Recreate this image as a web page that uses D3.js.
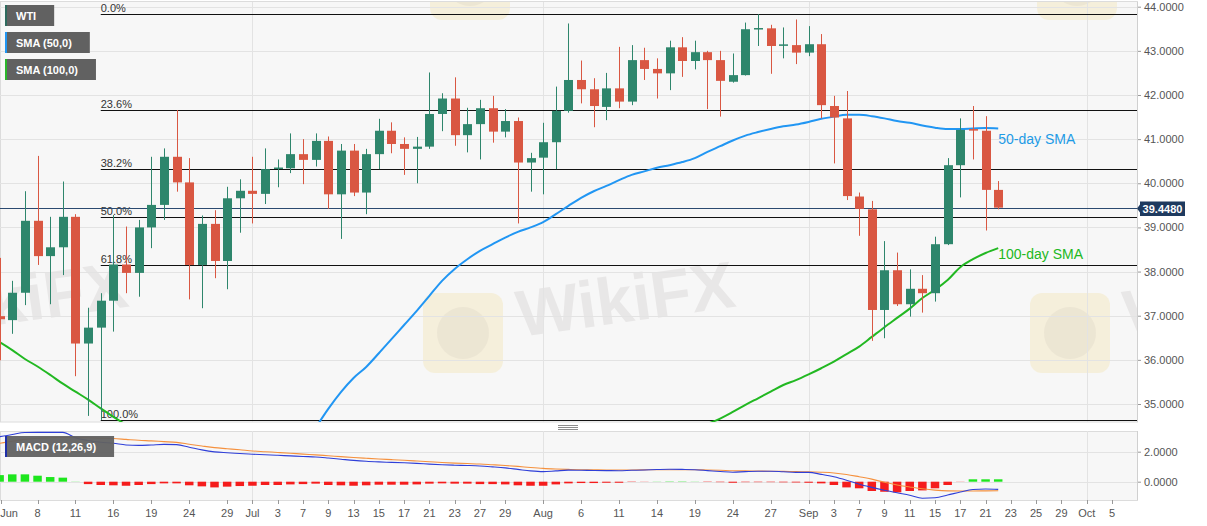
<!DOCTYPE html>
<html><head><meta charset="utf-8">
<script src="https://cdnjs.cloudflare.com/ajax/libs/d3/7.8.5/d3.min.js"></script>
<style>
body{margin:0;background:#fff;}
svg{display:block;font-family:"Liberation Sans",Arial,sans-serif;}
</style>
</head><body>
<svg id="c" width="1207" height="526"></svg>
<script>
// ---------------- DATA ----------------
const dates = ["2020-06-03","2020-06-04","2020-06-05","2020-06-08","2020-06-09","2020-06-10","2020-06-11","2020-06-12","2020-06-15","2020-06-16","2020-06-17","2020-06-18","2020-06-19","2020-06-22","2020-06-23","2020-06-24","2020-06-25","2020-06-26","2020-06-29","2020-06-30",
"2020-07-01","2020-07-02","2020-07-03","2020-07-06","2020-07-07","2020-07-08","2020-07-09","2020-07-10","2020-07-13","2020-07-14","2020-07-15","2020-07-16","2020-07-17","2020-07-20","2020-07-21","2020-07-22","2020-07-23","2020-07-24","2020-07-27","2020-07-28","2020-07-29","2020-07-30","2020-07-31",
"2020-08-03","2020-08-04","2020-08-05","2020-08-06","2020-08-07","2020-08-10","2020-08-11","2020-08-12","2020-08-13","2020-08-14","2020-08-17","2020-08-18","2020-08-19","2020-08-20","2020-08-21","2020-08-24","2020-08-25","2020-08-26","2020-08-27","2020-08-28","2020-08-31",
"2020-09-01","2020-09-02","2020-09-03","2020-09-04","2020-09-07","2020-09-08","2020-09-09","2020-09-10","2020-09-11","2020-09-14","2020-09-15","2020-09-16","2020-09-17","2020-09-18","2020-09-21","2020-09-22"];

const open = [36.99,36.90,37.52,39.15,38.35,38.55,39.24,36.37,36.73,37.34,38.16,37.97,39.00,39.51,40.60,40.02,38.15,39.08,38.24,39.66,
39.83,39.76,40.31,40.34,40.66,40.53,40.96,39.75,40.74,39.79,40.66,41.19,40.89,40.78,40.83,41.57,41.92,41.09,41.34,41.70,41.17,41.41,40.47,
40.58,40.93,41.64,42.34,42.13,41.73,42.15,41.85,42.79,42.59,42.49,43.08,42.77,42.97,42.79,42.30,42.45,43.48,43.51,43.11,43.13,
42.96,43.15,41.75,41.47,39.70,39.41,37.13,38.03,37.26,37.61,37.51,38.62,40.41,41.21,41.19,39.85];
const high = [38.31,37.79,39.82,40.62,39.24,40.04,39.30,37.18,37.51,39.28,39.02,39.17,40.60,40.79,41.66,40.57,39.27,39.39,39.92,40.09,
40.60,40.79,40.54,41.13,41.00,41.13,41.06,40.89,40.89,40.78,41.46,41.38,41.04,41.05,42.51,42.04,42.40,41.71,41.89,41.98,41.68,41.49,40.69,
41.37,42.19,43.62,42.78,42.38,42.50,43.09,43.13,43.07,42.83,43.23,43.31,43.23,43.00,43.00,42.94,43.64,43.83,43.59,43.53,43.71,
43.56,43.38,41.98,42.09,39.79,39.60,38.69,38.43,38.05,37.92,38.79,40.57,41.47,41.75,41.52,40.05];
const low = [35.99,36.59,37.24,38.15,37.26,37.92,35.63,34.73,34.64,36.64,37.51,37.43,38.53,39.17,39.81,37.37,37.17,37.85,37.60,38.88,
39.09,39.53,39.91,40.23,39.98,40.38,39.42,38.74,39.71,39.30,40.32,40.68,40.19,40.00,40.78,41.18,40.85,40.70,40.54,40.92,41.04,39.09,39.81,
39.75,40.32,41.60,41.81,41.27,41.43,41.70,41.77,42.34,41.92,42.11,42.41,42.58,41.68,41.51,42.28,42.44,43.11,42.48,42.83,42.70,
42.88,41.47,40.45,39.62,38.81,36.43,36.49,37.22,36.98,37.07,37.32,38.60,39.68,40.54,38.93,39.41];
const close = [36.92,37.52,39.15,38.35,38.55,39.24,36.37,36.73,37.34,38.16,37.97,39.00,39.51,40.60,40.02,38.15,39.08,38.24,39.66,39.83,
39.76,40.32,40.34,40.66,40.53,40.96,39.75,40.74,39.79,40.66,41.19,40.89,40.78,40.83,41.57,41.92,41.09,41.34,41.70,41.17,41.41,40.47,40.57,
40.93,41.64,42.34,42.13,41.75,42.15,41.85,42.79,42.59,42.49,43.08,42.77,42.97,42.79,42.32,42.45,43.49,43.50,43.11,43.13,42.96,
43.15,41.77,41.49,39.71,39.42,37.13,38.03,37.26,37.61,37.51,38.62,40.41,41.21,41.19,39.85,39.448];

const _ = null;
const sma50 = [_,_,_,_,_,_,_,_,_,_,_,_,_,_,_,_,_,_,_,_,
_,_,_,_,_,34.46,34.89,35.27,35.59,35.84,36.15,36.47,36.79,37.11,37.45,37.79,38.06,38.28,38.47,38.62,38.77,38.90,39.00,
39.12,39.30,39.49,39.67,39.82,39.94,40.07,40.19,40.27,40.35,40.41,40.48,40.57,40.71,40.84,40.97,41.08,41.16,41.23,41.29,41.33,
41.39,41.46,41.51,41.55,41.55,41.52,41.47,41.41,41.37,41.31,41.26,41.23,41.23,41.24,41.25,41.24];
const sma100 = [36.40,36.22,36.02,35.85,35.66,35.46,35.28,35.10,34.90,34.71,34.53,34.35,_,_,_,_,_,_,_,_,
_,_,_,_,_,_,_,_,_,_,_,_,_,_,_,_,_,_,_,_,_,_,_,
_,_,_,_,_,_,_,_,_,_,_,_,_,34.55,34.67,34.82,34.98,35.13,35.28,35.43,35.54,
35.67,35.81,35.96,36.13,36.30,36.52,36.74,36.95,37.16,37.40,37.59,37.81,38.10,38.28,38.42,38.53];

const macd = [3.00,3.15,3.28,3.29,3.29,3.29,2.93,2.75,2.63,2.56,2.45,2.42,2.45,2.49,2.47,2.30,2.12,1.99,1.93,1.88,
1.83,1.80,1.76,1.72,1.68,1.65,1.58,1.50,1.42,1.36,1.32,1.29,1.26,1.22,1.17,1.13,1.10,1.08,1.05,0.99,0.92,0.82,0.72,
0.67,0.72,0.77,0.76,0.75,0.74,0.73,0.76,0.78,0.81,0.83,0.82,0.80,0.74,0.68,0.63,0.67,0.70,0.70,0.66,0.62,
0.62,0.49,0.33,0.10,-0.17,-0.38,-0.57,-0.74,-0.90,-1.10,-1.07,-0.89,-0.69,-0.52,-0.49,-0.51];
const signal = [2.56,2.70,2.82,2.90,2.93,2.95,2.94,2.93,2.90,2.88,2.82,2.76,2.72,2.67,2.62,2.50,2.38,2.27,2.20,2.13,
2.05,2.00,1.95,1.90,1.84,1.79,1.73,1.67,1.61,1.56,1.51,1.47,1.43,1.38,1.33,1.28,1.24,1.21,1.18,1.13,1.08,1.02,0.95,
0.89,0.85,0.82,0.80,0.79,0.78,0.78,0.78,0.79,0.80,0.80,0.80,0.80,0.78,0.76,0.73,0.72,0.71,0.70,0.69,0.67,
0.66,0.63,0.58,0.48,0.33,0.17,-0.04,-0.22,-0.35,-0.47,-0.56,-0.61,-0.62,-0.62,-0.61,-0.60];
const hist = [0.44,0.49,0.49,0.40,0.31,0.27,0.01,-0.16,-0.22,-0.24,-0.27,-0.22,-0.16,-0.11,-0.11,-0.24,-0.31,-0.38,-0.33,-0.29,
-0.27,-0.22,-0.22,-0.18,-0.16,-0.13,-0.22,-0.24,-0.27,-0.24,-0.20,-0.20,-0.20,-0.18,-0.13,-0.11,-0.13,-0.13,-0.16,-0.16,-0.18,-0.24,-0.27,
-0.27,-0.18,-0.11,-0.09,-0.09,-0.07,-0.07,-0.02,-0.01,0.01,0.02,0.02,0.01,-0.02,-0.03,-0.07,-0.03,-0.03,-0.03,-0.04,-0.05,
-0.07,-0.11,-0.22,-0.38,-0.44,-0.62,-0.67,-0.71,-0.62,-0.58,-0.44,-0.22,-0.01,0.16,0.16,0.16];

const fibHigh = 43.83, fibLow = 34.63, fibStart = "2020-06-15";
const fibLevels = [0, 0.236, 0.382, 0.5, 0.618, 1];
const fibLabels = ["0.0%","23.6%","38.2%","50.0%","61.8%","100.0%"];
const lastPrice = 39.448;

const priceTicks = [35,36,37,38,39,40,41,42,43,44];
const macdTicks = [0,2];
const monthStarts = ["2020-07-01","2020-08-03","2020-09-01","2020-10-01"];
const xTickDates = ["2020-06-01","2020-06-08","2020-06-11","2020-06-16","2020-06-19","2020-06-24","2020-06-29","2020-07-01","2020-07-03","2020-07-07","2020-07-09","2020-07-13","2020-07-15","2020-07-17","2020-07-21","2020-07-23","2020-07-27","2020-07-29","2020-08-03","2020-08-06","2020-08-11","2020-08-14","2020-08-19","2020-08-24","2020-08-27","2020-09-01","2020-09-03","2020-09-07","2020-09-09","2020-09-11","2020-09-15","2020-09-17","2020-09-21","2020-09-23","2020-09-25","2020-09-29","2020-10-01","2020-10-05"];
const xTickLabels = ["Jun","8","11","16","19","24","29","Jul","3","7","9","13","15","17","21","23","27","29","Aug","6","11","14","19","24","27","Sep","3","7","9","11","15","17","21","23","25","29","Oct","5"];
const legendItems = ["WTI","SMA (50,0)","SMA (100,0)"];
const legendColors = ["#2e6b5e","#2196f3","#2ab52a"];

// ---------------- LAYOUT ----------------
const plotL = 0, plotR = 1137, mainT = 2, mainB = 422, macdT = 431, macdB = 500;
const UP = "#2e866c", DOWN = "#d95742", SMA50C = "#2196f3", SMA100C = "#22b822";

const base = Date.UTC(2020, 8, 1);
function wdIndex(s) {
  const t = Date.parse(s + "T00:00:00Z");
  const step = t < base ? -1 : 1;
  let n = 0, cur = new Date(base);
  while (cur.getTime() !== t) {
    cur.setUTCDate(cur.getUTCDate() + step);
    const wd = cur.getUTCDay();
    if (wd !== 0 && wd !== 6) n += step;
  }
  return n;
}
const idx = dates.map(wdIndex);

const x = d3.scaleLinear().domain([-63.97, 25.98]).range([plotL, plotR]);
const y = d3.scaleLinear().domain([35, 44]).range([404, 6.7]);
const ym = d3.scaleLinear().domain([0, 2]).range([481.7, 451.7]);

const svg = d3.select("#c");
const defs = svg.append("defs");
defs.append("clipPath").attr("id","cm").append("rect").attr("x",plotL).attr("y",mainT).attr("width",plotR-plotL).attr("height",mainB-mainT);
defs.append("clipPath").attr("id","cd").append("rect").attr("x",plotL).attr("y",macdT).attr("width",plotR-plotL).attr("height",macdB-macdT);

// panels
svg.append("rect").attr("x",plotL+0.5).attr("y",mainT-0.5).attr("width",plotR-plotL).attr("height",mainB-mainT+0.5).attr("fill","#f7f7f7").attr("stroke","#dcdcdc");
svg.append("rect").attr("x",plotL+0.5).attr("y",macdT+0.5).attr("width",plotR-plotL).attr("height",macdB-macdT).attr("fill","#f7f7f7").attr("stroke","#dcdcdc");

// watermarks (logo tiles + faint brand text)
const wm = svg.append("g").attr("clip-path","url(#cm)");
[[520,337,true],[-87,337,true],[1127,337,true],[527,-16,false],[1134,-16,false]].forEach(([tx,ty,withText]) => {
  wm.append("rect").attr("x",tx-97).attr("y",ty-44).attr("width",80).attr("height",80).attr("rx",12)
    .attr("fill","#f0d070").attr("opacity",0.2);
  wm.append("circle").attr("cx",tx-57).attr("cy",ty-4).attr("r",26).attr("fill","#8a8080").attr("opacity",0.08);
  if (withText) {
    wm.append("text").attr("x",tx).attr("y",ty).attr("transform",`rotate(-8,${tx},${ty})`)
      .attr("font-size",66).attr("font-weight","bold").attr("fill","#8a8080").attr("opacity",0.13).text("WikiFX");
  }
});

// grid
const grid = svg.append("g");
grid.selectAll("line.h").data(priceTicks).join("line")
  .attr("x1",plotL).attr("x2",plotR).attr("y1",d=>Math.round(y(d))+0.5).attr("y2",d=>Math.round(y(d))+0.5)
  .attr("stroke","#e3e3e3");
grid.selectAll("line.hm").data(macdTicks).join("line")
  .attr("x1",plotL).attr("x2",plotR).attr("y1",d=>Math.round(ym(d))+0.5).attr("y2",d=>Math.round(ym(d))+0.5)
  .attr("stroke","#e3e3e3");
monthStarts.forEach(ds => {
  const px = Math.round(x(wdIndex(ds))) + 0.5;
  grid.append("line").attr("x1",px).attr("x2",px).attr("y1",mainT).attr("y2",mainB).attr("stroke","#e3e3e3");
  grid.append("line").attr("x1",px).attr("x2",px).attr("y1",macdT).attr("y2",macdB).attr("stroke","#e3e3e3");
});

// main plot group
const gm = svg.append("g").attr("clip-path","url(#cm)");

// fib
const fx0 = x(wdIndex(fibStart));
fibLevels.forEach((lv,i) => {
  const p = fibHigh - (fibHigh - fibLow) * lv;
  const py = Math.round(y(p)) + 0.5;
  gm.append("line").attr("x1",fx0).attr("x2",plotR).attr("y1",py).attr("y2",py).attr("stroke","#111").attr("stroke-width",1.2);
  gm.append("text").attr("x",fx0).attr("y",py-3).attr("font-size",11).attr("fill","#333").text(fibLabels[i]);
});

// last price line
const lpY = Math.round(y(lastPrice)) + 0.5;
gm.append("line").attr("x1",plotL).attr("x2",plotR).attr("y1",lpY).attr("y2",lpY).attr("stroke","#2b4a70").attr("stroke-width",1);

// SMA lines
const ids = d3.range(dates.length);
const lineOf = arr => d3.line().defined(i => arr[i] != null).x(i => x(idx[i])).y(i => y(arr[i])).curve(d3.curveMonotoneX);
gm.append("path").attr("d", lineOf(sma50)(ids)).attr("fill","none").attr("stroke",SMA50C).attr("stroke-width",2);
gm.append("path").attr("d", lineOf(sma100)(ids)).attr("fill","none").attr("stroke",SMA100C).attr("stroke-width",2);

// candles
const bw = 9;
const cg = gm.append("g").selectAll("g").data(ids).join("g");
const col = i => close[i] >= open[i] ? UP : DOWN;
cg.append("line")
  .attr("x1", i => Math.round(x(idx[i])) + 0.5).attr("x2", i => Math.round(x(idx[i])) + 0.5)
  .attr("y1", i => y(high[i])).attr("y2", i => y(low[i])).attr("stroke", col).attr("stroke-width",1);
cg.append("rect")
  .attr("x", i => Math.round(x(idx[i])) + 0.5 - bw/2)
  .attr("y", i => y(Math.max(open[i], close[i])) - (Math.abs(y(open[i])-y(close[i])) < 1.5 ? 0.75 : 0))
  .attr("width", bw)
  .attr("height", i => Math.max(1.5, Math.abs(y(open[i]) - y(close[i]))))
  .attr("fill", col);

// SMA labels
const last = dates.length - 1;
svg.append("text").attr("x", x(idx[last])).attr("y", y(sma50[last]) + 15).attr("font-size",14).attr("fill","#1e9be6").text("50-day SMA");
svg.append("text").attr("x", x(idx[last])).attr("y", y(sma100[last]) + 11).attr("font-size",14).attr("fill","#22b822").text("100-day SMA");

// MACD panel
const gd = svg.append("g").attr("clip-path","url(#cd)");
gd.selectAll("rect.h").data(ids).join("rect")
  .attr("x", i => x(idx[i]) - 4.25).attr("width", 8.5)
  .attr("y", i => Math.min(ym(0), ym(hist[i])))
  .attr("height", i => Math.abs(ym(hist[i]) - ym(0)))
  .attr("fill", i => hist[i] >= 0 ? "#1ee61e" : "#f51c1c");
const ml = arr => d3.line().x(i => x(idx[i])).y(i => ym(arr[i])).curve(d3.curveMonotoneX);
gd.append("path").attr("d", ml(signal)(ids)).attr("fill","none").attr("stroke","#f5913e").attr("stroke-width",1.1);
gd.append("path").attr("d", ml(macd)(ids)).attr("fill","none").attr("stroke","#2f3fd8").attr("stroke-width",1.1);

// right price axis
const ax = svg.append("g").attr("transform",`translate(${plotR},0)`)
  .call(d3.axisRight(y).tickValues(priceTicks).tickFormat(d3.format(".4f")).tickSize(4).tickPadding(3));
ax.select(".domain").remove();
ax.selectAll("line").attr("stroke","#999");
ax.selectAll("text").attr("font-size",11).attr("fill","#555").attr("font-family","Liberation Sans, Arial, sans-serif");
svg.append("line").attr("x1",plotR+0.5).attr("x2",plotR+0.5).attr("y1",mainT).attr("y2",mainB).attr("stroke","#d0d0d0");

const axm = svg.append("g").attr("transform",`translate(${plotR},0)`)
  .call(d3.axisRight(ym).tickValues(macdTicks).tickFormat(d3.format(".4f")).tickSize(4).tickPadding(3));
axm.select(".domain").remove();
axm.selectAll("line").attr("stroke","#999");
axm.selectAll("text").attr("font-size",11).attr("fill","#555").attr("font-family","Liberation Sans, Arial, sans-serif");
svg.append("line").attr("x1",plotR+0.5).attr("x2",plotR+0.5).attr("y1",macdT).attr("y2",macdB).attr("stroke","#d0d0d0");

// x axis
const xa = svg.append("g");
xTickDates.forEach((ds,i) => {
  const raw = x(wdIndex(ds));
  const px = Math.max(Math.round(raw) + 0.5, 1.5);
  xa.append("line").attr("x1",px).attr("x2",px).attr("y1",macdB).attr("y2",macdB+4).attr("stroke","#999");
  xa.append("text").attr("x", Math.max(raw, 9)).attr("y",517).attr("text-anchor","middle")
    .attr("font-size",11).attr("fill","#555").text(xTickLabels[i]);
});

// price label
const pl = svg.append("g");
pl.append("path").attr("d", `M${plotR},${lpY} L${plotR+3},${lpY-4} L${plotR+3},${lpY-7} L${plotR+48},${lpY-7} L${plotR+48},${lpY+7.5} L${plotR+3},${lpY+7.5} L${plotR+3},${lpY+4} Z`)
  .attr("fill","#1e3a5f");
pl.append("text").attr("x",plotR+25.5).attr("y",lpY+4).attr("text-anchor","middle").attr("font-size",11)
  .attr("font-weight","bold").attr("fill","#fff").text(d3.format(".4f")(lastPrice));

// legends
const lg = svg.append("g");
legendItems.forEach((t,i) => {
  const yy = 5 + i*27;
  const tmp = lg.append("text").attr("x",16).attr("y",yy+14.5).attr("font-size",11).attr("font-weight","bold").attr("fill","#fff").text(t);
  const w = tmp.node().getComputedTextLength();
  lg.insert("rect","text").attr("x",5).attr("y",yy).attr("width",w+29).attr("height",21).attr("fill","#616161");
  lg.insert("rect","text").attr("x",5).attr("y",yy).attr("width",2).attr("height",21).attr("fill",legendColors[i]);
});
const mt = lg.append("text").attr("x",16).attr("y",451).attr("font-size",11).attr("font-weight","bold").attr("fill","#fff").text("MACD (12,26,9)");
const mw = mt.node().getComputedTextLength();
lg.insert("rect","text").attr("x",5).attr("y",436).attr("width",mw+29).attr("height",21).attr("fill","#616161").attr("opacity",0.95);
lg.insert("rect","text").attr("x",5).attr("y",436).attr("width",2).attr("height",21).attr("fill","#1f2fa8");

// separator handle
[425.5,427.5,429.5].forEach(v => {
  svg.append("line").attr("x1",558).attr("x2",578).attr("y1",v).attr("y2",v).attr("stroke","#8c8c8c");
});
</script>
</body></html>
